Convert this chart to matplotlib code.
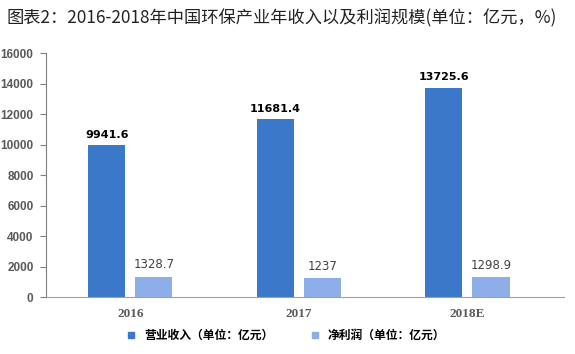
import numpy as np
import matplotlib
matplotlib.use("Agg")
from matplotlib import pyplot as plt
from matplotlib.lines import Line2D

plt.rcParams['font.family'] = ['Noto Sans CJK SC', 'DejaVu Sans']

years = ["2016", "2017", "2018E"]
revenue = [9941.6, 11681.4, 13725.6]
profit = [1328.7, 1237, 1298.9]
rev_labels = ["9941.6", "11681.4", "13725.6"]
prof_labels = ["1328.7", "1237", "1298.9"]

dark = "#3b78c9"
light = "#8eaeea"
grey = "#595959"

fig = plt.figure(figsize=(5.75, 3.54), dpi=100)
ax = fig.add_axes([0.08, 0.161, 0.9, 0.689])

x = np.arange(len(years))
w = 0.22
ax.bar(x - 0.14, revenue, w, color=dark)
ax.bar(x + 0.14, profit, w, color=light)

for xi, v, s in zip(x, revenue, rev_labels):
    ax.text(xi - 0.14, v + 350, s, ha="center", va="bottom", fontsize=8,
            fontweight="bold", color="black", family="DejaVu Sans")
for xi, v, s in zip(x, profit, prof_labels):
    ax.text(xi + 0.14, v + 350, s, ha="center", va="bottom", fontsize=8.5,
            color="#404040", family="DejaVu Sans")

ax.set_xlim(-0.5, 2.57)
ax.set_ylim(0, 16000)
ax.set_yticks(np.arange(0, 16001, 2000))
ax.set_xticks(x)
ax.set_xticklabels(years, family="Liberation Serif", fontweight="bold",
                   fontsize=9.5, color=grey)
for lab in ax.get_yticklabels():
    lab.set_family("Liberation Sans")
    lab.set_fontweight("bold")
    lab.set_fontsize(8.5)
    lab.set_color(grey)

ax.spines["top"].set_visible(False)
ax.spines["right"].set_visible(False)
ax.spines["left"].set_color("#7f7f7f")
ax.spines["bottom"].set_color("#a0a0a0")
ax.tick_params(axis="y", length=4, color="#7f7f7f", pad=5)
ax.tick_params(axis="x", length=0, pad=8)

handles = [Line2D([], [], marker="s", ls="", color=dark, markersize=5),
           Line2D([], [], marker="s", ls="", color=light, markersize=5)]
fig.legend(handles, ["营业收入（单位：亿元）", "净利润（单位：亿元）"],
           loc="center", bbox_to_anchor=(0.491, 0.053), ncol=2, frameon=False,
           handletextpad=0.1, columnspacing=2.5,
           prop={"family": "Noto Sans CJK SC", "weight": "bold", "size": 8.5})

fig.text(0.012, 0.949, "图表2：2016-2018年中国环保产业年收入以及利润规模(单位：亿元，%)",
         fontsize=12.4, color="#222222", va="center", ha="left")

fig.savefig("out.png", dpi=100)
